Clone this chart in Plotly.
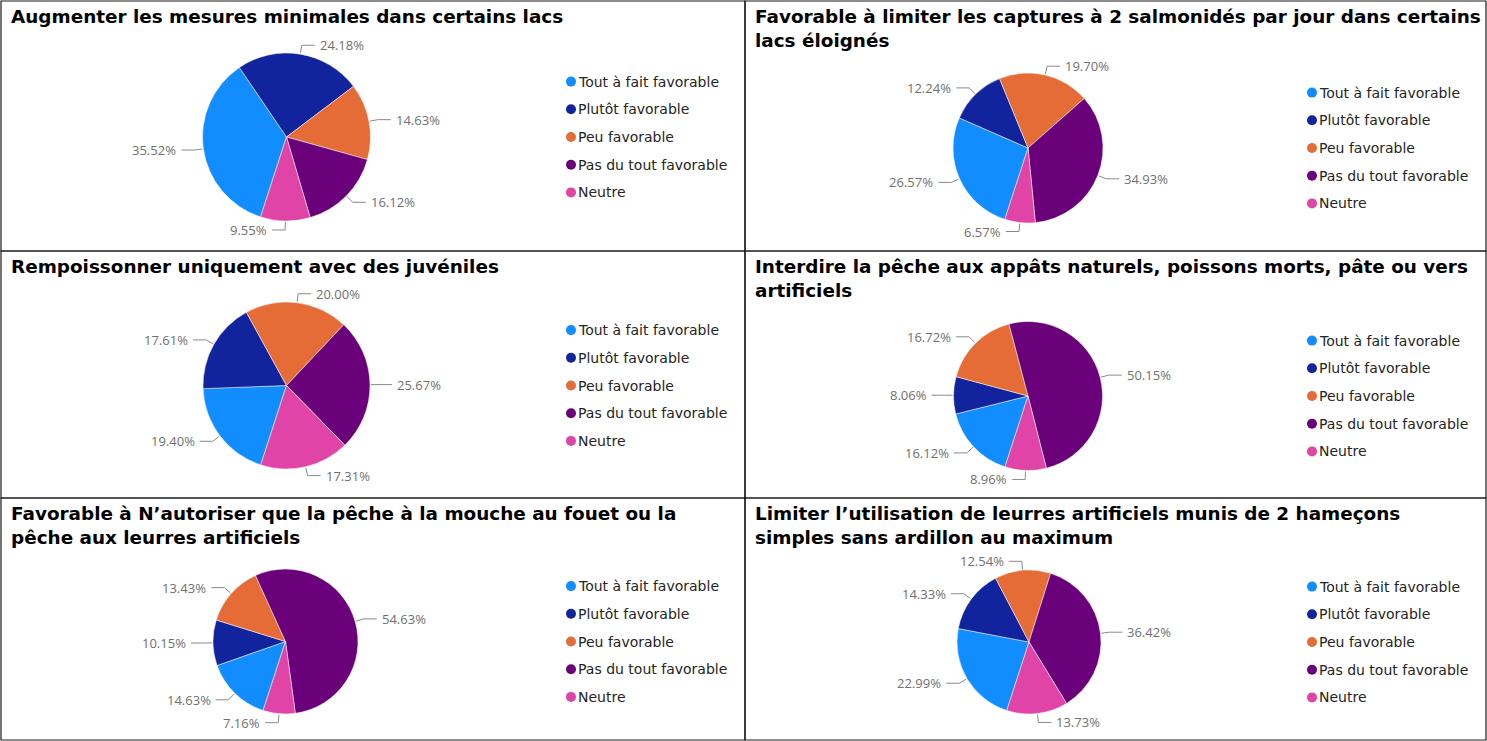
import math
import plotly.graph_objects as go

W, H = 1487, 741

categories = ["Tout à fait favorable", "Plutôt favorable", "Peu favorable",
              "Pas du tout favorable", "Neutre"]

titles = [
    "Augmenter les mesures minimales dans certains lacs",
    "Favorable à limiter les captures à 2 salmonidés par jour dans certains<br>lacs éloignés",
    "Rempoissonner uniquement avec des juvéniles",
    "Interdire la pêche aux appâts naturels, poissons morts, pâte ou vers<br>artificiels",
    "Favorable à N’autoriser que la pêche à la mouche au fouet ou la<br>pêche aux leurres artificiels",
    "Limiter l’utilisation de leurres artificiels munis de 2 hameçons<br>simples sans ardillon au maximum",
]

# % des répondants, dans l'ordre des catégories
mesures_minimales = [35.52, 24.18, 14.63, 16.12, 9.55]
captures_salmonides = [26.57, 12.24, 19.70, 34.93, 6.57]
rempoissonner = [19.40, 17.61, 20.00, 25.67, 17.31]
appats_naturels = [16.12, 8.06, 16.72, 50.15, 8.96]
mouche_leurres = [14.63, 10.15, 13.43, 54.63, 7.16]
hamecons_simples = [22.99, 14.33, 12.54, 36.42, 13.73]

series = [mesures_minimales, captures_salmonides, rempoissonner,
          appats_naturels, mouche_leurres, hamecons_simples]

colors = ["#118DFF", "#12239E", "#E66C37", "#6B007B", "#E044A7"]

# mise en page en pixels : panneau (x0, y0, x1, y1), centre du camembert, rayon
panels = [
    ((1, 1, 745, 251), 286.5, 137, 84),
    ((745, 1, 1486, 251), 1028, 148, 75),
    ((1, 251, 745, 498), 286.5, 385.5, 83.5),
    ((745, 251, 1486, 498), 1028, 396, 74.5),
    ((1, 498, 745, 740), 285.5, 641.5, 72.5),
    ((745, 498, 1486, 740), 1029, 642, 72),
]
ROT = 198


def px(x):
    return x / W


def py(y):
    return 1 - y / H


fig = go.Figure()
shapes = []
annotations = []

for k, (vals, title, (box, cx, cy, r)) in enumerate(zip(series, titles, panels)):
    fig.add_trace(go.Pie(
        labels=categories, values=vals, sort=False, direction="clockwise",
        rotation=ROT, textinfo="none", showlegend=False,
        marker=dict(colors=colors, line=dict(color="white", width=0.5)),
        domain=dict(x=[px(cx - r), px(cx + r)], y=[py(cy + r), py(cy - r)]),
        hovertemplate="%{label}: %{value:.2f}%<extra></extra>",
    ))

    x0, y0, x1, y1 = box
    shapes.append(dict(type="rect", xref="paper", yref="paper",
                       x0=px(x0), x1=px(x1), y0=py(y0), y1=py(y1),
                       line=dict(color="#1a1a1a", width=1.2)))

    annotations.append(dict(
        text=title, xref="paper", yref="paper", x=px(x0 + 8), y=py(y0 + 3),
        xanchor="left", yanchor="top", align="left", showarrow=False,
        font=dict(family="DejaVu Sans", size=18.4, color="#000000", weight="bold"),
    ))

    # étiquettes de données avec traits de rappel
    cum = 0
    for v in vals:
        mid = math.radians(ROT + (cum + v / 2) * 3.6)
        cum += v
        sx, sy = math.sin(mid), -math.cos(mid)
        side = 1 if sx >= 0 else -1
        ax, ay = cx + (r + 1) * sx, cy + (r + 1) * sy
        bx, by = cx + (r + 9) * sx, cy + (r + 9) * sy
        ex = bx + side * 13
        shapes.append(dict(
            type="path", xref="paper", yref="paper",
            path=f"M {px(ax)},{py(ay)} L {px(bx)},{py(by)} L {px(ex)},{py(by)}",
            line=dict(color="#8a8a8a", width=1),
        ))
        annotations.append(dict(
            text=f"{v:.2f}%", xref="paper", yref="paper",
            x=px(ex + side * 3), y=py(by), showarrow=False,
            xanchor="left" if side > 0 else "right", yanchor="middle",
            font=dict(family="Open Sans", size=13, color="#707070"),
        ))

    # légende
    lx = 571 if x0 < 700 else 1312
    for i, (cat, col) in enumerate(zip(categories, colors)):
        ly = cy + (i - 2) * 27.7
        shapes.append(dict(type="circle", xref="paper", yref="paper",
                           x0=px(lx - 5), x1=px(lx + 5), y0=py(ly + 5), y1=py(ly - 5),
                           fillcolor=col, line=dict(width=0)))
        annotations.append(dict(
            text=cat, xref="paper", yref="paper", x=px(lx + 5), y=py(ly),
            xanchor="left", yanchor="middle", showarrow=False,
            font=dict(family="DejaVu Sans", size=14, color="#252423"),
        ))

fig.update_layout(
    width=W, height=H, margin=dict(l=0, r=0, t=0, b=0),
    paper_bgcolor="white", plot_bgcolor="white",
    shapes=shapes, annotations=annotations,
)

fig.write_html("out.html", config={"displayModeBar": False},
               post_script="document.body.style.margin='0';document.body.style.overflow='hidden';")
